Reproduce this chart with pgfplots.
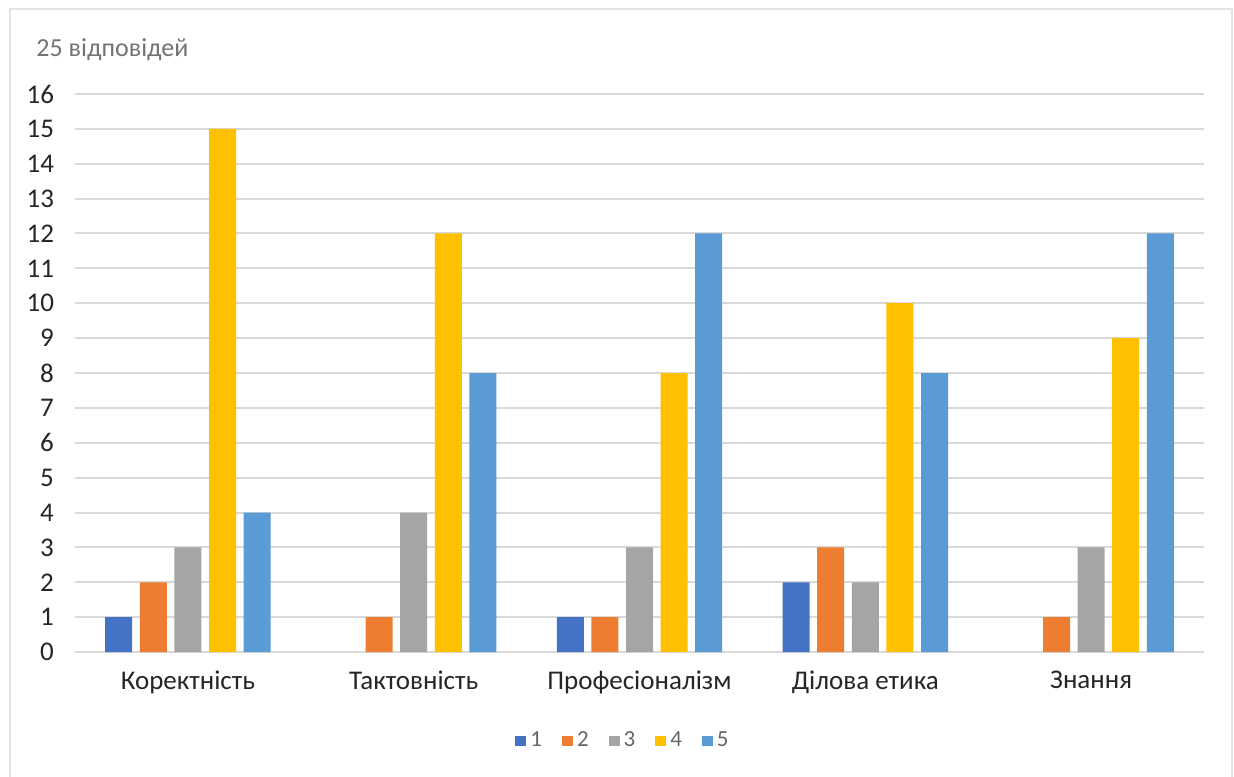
\documentclass[border=0pt]{standalone}
\usepackage{pgfplots}
\pgfplotsset{compat=1.18}
\usepackage{fontspec}
\setmainfont{Carlito}
\definecolor{c1}{HTML}{4472C4}
\definecolor{c2}{HTML}{ED7D31}
\definecolor{c3}{HTML}{A5A5A5}
\definecolor{c4}{HTML}{FFC000}
\definecolor{c5}{HTML}{5B9BD5}
\definecolor{gridc}{HTML}{D9D9D9}
\definecolor{txt}{HTML}{262626}
\begin{document}
\begin{tikzpicture}
\useasboundingbox (0,0) rectangle (617pt,388pt);
\fill[white] (0,0) rectangle (617pt,388pt);
\draw[gridc!70, line width=0.8pt] (5pt,-3pt) rectangle (616pt,383.5pt);
\node[anchor=base west, text=black!55, font=\fontsize{13}{15}\selectfont, inner sep=0pt] at (18pt,359.5pt) {25 відповідей};
\begin{axis}[
  at={(37.5pt,62pt)}, anchor=south west,
  scale only axis, width=564.5pt, height=279pt,
  ybar=3.8pt, bar width=13.5pt,
  xmin=-0.5, xmax=4.5, ymin=0, ymax=16,
  xtick={0,1,2,3,4}, xticklabels={Коректність, Тактовність, Професіоналізм, Ділова етика, Знання},
  ytick={0,...,16},
  ymajorgrids, grid style={gridc, line width=1pt},
  axis line style={draw=none}, major tick length=0,
  /pgf/number format/assume math mode=true,
  tick label style={text=txt, font=\fontsize{13.5}{15}\selectfont},
  yticklabel style={xshift=-7pt},
  xticklabel style={yshift=-6pt},
  legend style={at={(274.5pt,-44.5pt)}, anchor=center, draw=none, fill=none,
    legend columns=-1, font=\fontsize{11.5}{13}\selectfont, text=black!60,
    /tikz/every even column/.append style={column sep=8pt}},
  legend image code/.code={\fill[#1] (0pt,-2.7pt) rectangle (5.5pt,2.7pt);},
  enlargelimits=false, clip=false,
]
\addplot[fill=c1, draw=none] coordinates {(0,1) (2,1) (3,2)};
\addplot[fill=c2, draw=none] coordinates {(0,2) (1,1) (2,1) (3,3) (4,1)};
\addplot[fill=c3, draw=none] coordinates {(0,3) (1,4) (2,3) (3,2) (4,3)};
\addplot[fill=c4, draw=none] coordinates {(0,15) (1,12) (2,8) (3,10) (4,9)};
\addplot[fill=c5, draw=none] coordinates {(0,4) (1,8) (2,12) (3,8) (4,12)};
\legend{1,2,3,4,5}
\end{axis}
\end{tikzpicture}
\end{document}
